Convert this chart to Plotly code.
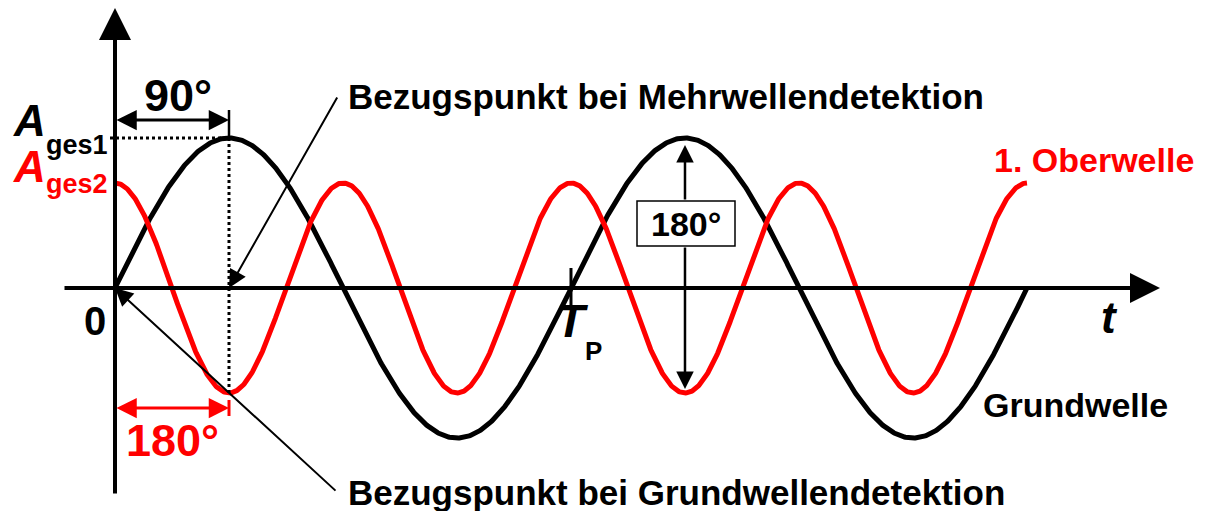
import numpy as np
import plotly.graph_objects as go

W, H = 1205, 511

# Fundamental (Grundwelle) and first harmonic (1. Oberwelle);
# time is measured in units of the fundamental period T_P.
n_periods = 2
grund_amp = 1.0      # A_ges1
ober_amp = 0.70      # A_ges2
ober_order = 2       # frequency multiple of the harmonic
tick_periods = [1]   # T_P marker on the time axis

t = np.linspace(0, n_periods, 1201)
grund = grund_amp * np.sin(2 * np.pi * t)
ober = ober_amp * np.cos(2 * np.pi * ober_order * t)

# plot window in data units
x_range = [-0.2522, 2.3904]
y_range = [-1.4867, 1.92]


def X(px):
    """pixel column -> time value"""
    return x_range[0] + px / W * (x_range[1] - x_range[0])


def Y(py):
    """pixel row -> amplitude value"""
    return y_range[1] - py / H * (y_range[1] - y_range[0])


def paper(px, py):
    return dict(x=px / W, y=1 - py / H, xref="paper", yref="paper")


BLACK = "#000000"
RED = "#ff0000"
FONT = "Liberation Sans, Arial, sans-serif"

fig = go.Figure()
fig.add_trace(go.Scatter(x=t, y=grund, mode="lines",
                         line=dict(color=BLACK, width=5), hoverinfo="skip"))
fig.add_trace(go.Scatter(x=t, y=ober, mode="lines",
                         line=dict(color=RED, width=5), hoverinfo="skip"))

shapes = []
# reference tick and dotted guides at the fundamental's maximum
q = 0.25
shapes.append(dict(type="line", x0=q, x1=q, y0=Y(110), y1=grund_amp,
                   line=dict(color=BLACK, width=2.5)))
shapes.append(dict(type="line", x0=q, x1=q, y0=grund_amp, y1=-ober_amp,
                   line=dict(color=BLACK, width=3, dash="dot")))
shapes.append(dict(type="line", x0=X(110), x1=q, y0=grund_amp, y1=grund_amp,
                   line=dict(color=BLACK, width=3, dash="dot")))
# red end ticks of the 180° span
for xv in (0, q):
    shapes.append(dict(type="line", x0=xv, x1=xv, y0=Y(400), y1=Y(416),
                       line=dict(color=RED, width=3)))
# T_P tick
for tp in tick_periods:
    shapes.append(dict(type="line", x0=tp, x1=tp, y0=Y(268), y1=Y(307),
                       line=dict(color=BLACK, width=3)))
# framed 180° label
shapes.append(dict(type="rect", x0=X(637), x1=X(735), y0=Y(201), y1=Y(246),
                   fillcolor="white", line=dict(color=BLACK, width=1.5),
                   layer="above"))

ann = []


def arrow(x, y, ax, ay, color=BLACK, width=2, size=1.5, both=False):
    d = dict(x=x, y=y, ax=ax, ay=ay, xref="x", yref="y", axref="x", ayref="y",
             text="", showarrow=True, arrowhead=2, arrowwidth=width,
             arrowsize=size, arrowcolor=color, standoff=0)
    if both:
        d.update(arrowside="end+start", startarrowhead=2, startarrowsize=size,
                 startstandoff=0)
    ann.append(d)


# axes
arrow(0, Y(8), 0, Y(495), width=4, size=1.6)
arrow(X(1160), 0, X(63), 0, width=4, size=1.5)
# 90° span
arrow(q, Y(120), 0, Y(120), width=3, size=1.35, both=True)
# 180° span of the harmonic
arrow(q, Y(408), 0, Y(408), color=RED, width=3, size=1.35, both=True)
# 180° peak-to-trough span at 1.25 T_P
arrow(1.25, Y(145), 1.25, Y(201), width=2.5, size=1.4)
arrow(1.25, Y(389), 1.25, Y(246), width=2.5, size=1.4)
# leaders for the reference points
arrow(0, 0, X(337), Y(492), width=2, size=1.8)
arrow(q, 0, X(338), Y(96), width=2, size=1.8)


def label(text, px, py, size, color=BLACK, xanchor="center", yanchor="middle"):
    ann.append(dict(text=text, showarrow=False, xanchor=xanchor,
                    yanchor=yanchor, font=dict(family=FONT, size=size,
                                               color=color),
                    **paper(px, py)))


label("<b>90°</b>", 178, 95, 45)
label("<b>180°</b>", 172, 440, 45, color=RED)
label("<b>180°</b>", 686, 224, 34)
label("<b>0</b>", 95, 321, 40)
label("<b><i>A</i></b>", 29, 120, 44)
label("<b>ges1</b>", 77, 145, 27)
label("<b><i>A</i></b>", 29, 166, 44, color=RED)
label("<b>ges2</b>", 77, 184, 27, color=RED)
label("<b><i>T</i></b>", 572, 320, 47)
label("<b>P</b>", 593, 351, 26)
label("<b><i>t</i></b>", 1109, 317, 44)
label("<b>1. Oberwelle</b>", 1094, 160, 34, color=RED)
label("<b>Grundwelle</b>", 1075, 405, 34)
label("<b>Bezugspunkt bei Mehrwellendetektion</b>", 346, 96, 35,
      xanchor="left")
label("<b>Bezugspunkt bei Grundwellendetektion</b>", 346, 492, 35,
      xanchor="left")

fig.update_layout(
    width=W, height=H, autosize=False,
    margin=dict(l=0, r=0, t=0, b=0),
    paper_bgcolor="white", plot_bgcolor="white",
    showlegend=False,
    xaxis=dict(range=x_range, visible=False, fixedrange=True),
    yaxis=dict(range=y_range, visible=False, fixedrange=True),
    shapes=shapes, annotations=ann,
)

fig.write_html("out.html")
